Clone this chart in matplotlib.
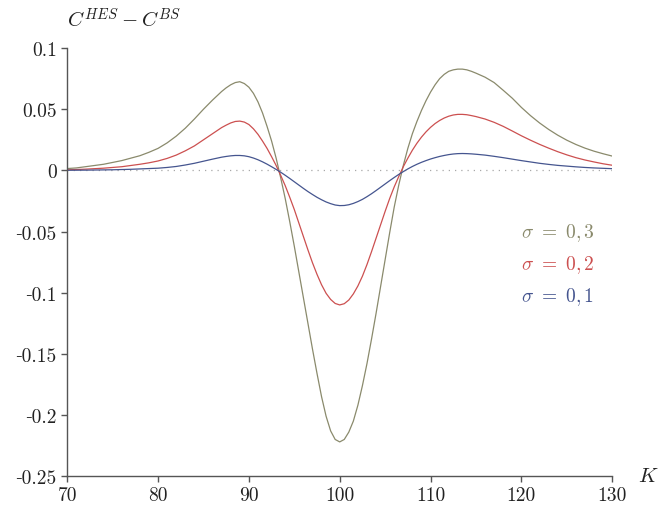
import matplotlib
matplotlib.use("Agg")
import matplotlib.pyplot as plt

plt.rcParams['font.family'] = ['cmr10', 'DejaVu Serif']
plt.rcParams['mathtext.fontset'] = 'cm'
plt.rcParams['axes.formatter.use_mathtext'] = True

# strike prices K (denser around the hump and the dip)
K = [70, 71, 72, 73, 74, 75, 76, 77, 78, 79, 80, 81, 82, 83, 84, 85, 86,
     86.5, 87, 87.5, 88, 88.5, 89, 89.5, 90, 90.5, 91, 91.5, 92, 92.5, 93, 93.5, 94,
     94.5, 95, 95.5, 96, 96.5, 97, 97.5, 98, 98.5, 99, 99.5, 100, 100.5, 101, 101.5, 102,
     102.5, 103, 103.5, 104, 104.5, 105, 105.5, 106, 106.5, 107, 107.5, 108, 108.5, 109,
     109.5, 110, 110.5, 111, 111.5, 112, 112.5, 113, 113.5, 114, 114.5, 115,
     116, 117, 118, 119, 120, 121, 122, 123, 124, 125, 126, 127, 128, 129, 130]

# C^HES - C^BS, one list per sigma
diff_s03 = [0.0015, 0.002, 0.003, 0.004, 0.005, 0.0065, 0.008, 0.010, 0.012, 0.0148,
            0.018, 0.0225, 0.028, 0.0345, 0.042, 0.050, 0.0575,
            0.061, 0.0645, 0.0675, 0.070, 0.0718, 0.0725, 0.071, 0.068, 0.063, 0.056,
            0.047, 0.036, 0.024, 0.010, -0.006, -0.023,
            -0.042, -0.062, -0.083, -0.104, -0.125, -0.146, -0.166, -0.185,
            -0.201, -0.213, -0.220, -0.222, -0.220, -0.214, -0.205, -0.192,
            -0.176, -0.158, -0.138, -0.117, -0.095, -0.073, -0.051, -0.030,
            -0.012, 0.004, 0.018, 0.030, 0.040, 0.049, 0.057, 0.064,
            0.070, 0.075, 0.0785, 0.081, 0.0822, 0.0828, 0.0828, 0.0822, 0.081, 0.0795,
            0.0762, 0.0718, 0.0655, 0.059, 0.0515, 0.0448, 0.0388, 0.0335, 0.0288, 0.0247,
            0.0212, 0.0182, 0.0157, 0.0136, 0.0117]
diff_s02 = [0.0005, 0.0007, 0.001, 0.0014, 0.0018, 0.0024, 0.003, 0.004, 0.005, 0.0062,
            0.0077, 0.0098, 0.0125, 0.016, 0.020, 0.025, 0.030,
            0.0325, 0.035, 0.037, 0.0388, 0.0400, 0.0403, 0.0395, 0.0375, 0.0340, 0.0295,
            0.0240, 0.0180, 0.0112, 0.0040, -0.0040, -0.0125,
            -0.0220, -0.0320, -0.0430, -0.0540, -0.0650, -0.0755, -0.0850, -0.0935,
            -0.1005, -0.1055, -0.1088, -0.1100, -0.1090, -0.1060, -0.1010, -0.0945,
            -0.0865, -0.0770, -0.0665, -0.0555, -0.0445, -0.0335, -0.0230, -0.0135,
            -0.0050, 0.0030, 0.0100, 0.0165, 0.0222, 0.0272, 0.0315, 0.0352,
            0.0383, 0.0408, 0.0428, 0.0443, 0.0453, 0.0458, 0.0458, 0.0455, 0.0448, 0.0440,
            0.0420, 0.0393, 0.0360, 0.0322, 0.0283, 0.0247, 0.0213, 0.0182, 0.0153, 0.0127,
            0.0104, 0.0085, 0.0069, 0.0054, 0.0042]
diff_s01 = [0.0001, 0.00015, 0.0002, 0.0003, 0.0004, 0.0005, 0.0007, 0.0009, 0.0012,
            0.0015, 0.0018, 0.0024, 0.0032, 0.0044, 0.0058, 0.0075, 0.0092,
            0.0100, 0.0108, 0.0114, 0.0119, 0.0122, 0.0122, 0.0119, 0.0112, 0.0101, 0.0087,
            0.0070, 0.0051, 0.0030, 0.0008, -0.0015, -0.0040,
            -0.0066, -0.0093, -0.0120, -0.0147, -0.0173, -0.0197, -0.0220, -0.0240,
            -0.0258, -0.0272, -0.0283, -0.0288, -0.0287, -0.0281, -0.0270, -0.0255,
            -0.0237, -0.0215, -0.0191, -0.0165, -0.0138, -0.0111, -0.0084, -0.0058,
            -0.0033, -0.0010, 0.0012, 0.0032, 0.0050, 0.0066, 0.0080, 0.0093,
            0.0104, 0.0114, 0.0122, 0.0129, 0.0134, 0.0137, 0.0138, 0.0137, 0.0135, 0.0132,
            0.0125, 0.0115, 0.0104, 0.0092, 0.0080, 0.0069, 0.0058, 0.0049, 0.0041, 0.0035,
            0.0029, 0.0024, 0.0020, 0.0017, 0.0014]

xticks = [70, 80, 90, 100, 110, 120, 130]
yticks = [0.1, 0.05, 0, -0.05, -0.1, -0.15, -0.2, -0.25]
ytick_labels = ['0.1', '0.05', '0', '\u20100.05', '\u20100.1', '\u20100.15',
                '\u20100.2', '\u20100.25']

c_olive = '#8a8a6c'
c_red = '#cc5050'
c_blue = '#45558f'

fig = plt.figure(figsize=(6.59, 5.06), dpi=100)
ax = fig.add_axes([0.102, 0.057, 0.827, 0.846])

ax.axhline(0, color='#a8a8a8', lw=0.9, ls=(0, (1, 4)))
ax.plot(K, diff_s03, color=c_olive, lw=0.9)
ax.plot(K, diff_s02, color=c_red, lw=0.9)
ax.plot(K, diff_s01, color=c_blue, lw=0.9)

ax.set_xlim(70, 130)
ax.set_ylim(-0.25, 0.1)
ax.set_xticks(xticks)
ax.set_xticklabels([str(t) for t in xticks])
ax.set_yticks(yticks)
ax.set_yticklabels(ytick_labels)

for s in ['top', 'right']:
    ax.spines[s].set_visible(False)
for s in ['left', 'bottom']:
    ax.spines[s].set_color('#555555')
    ax.spines[s].set_linewidth(1.0)
ax.tick_params(direction='out', length=4, width=1.0, color='#555555',
               labelsize=14, labelcolor='#222222')

ax.text(0.0, 1.068, r'$C^{HES} - C^{BS}$', transform=ax.transAxes,
        fontsize=15, ha='left', va='center', color='#222222')
ax.text(1.066, 0.0, r'$K$', transform=ax.transAxes,
        fontsize=15, ha='center', va='center', color='#222222')

ax.text(120.0, -0.0508, r'$\sigma\ =\ 0,3$', color=c_olive, fontsize=14, va='center')
ax.text(120.0, -0.0762, r'$\sigma\ =\ 0,2$', color=c_red, fontsize=14, va='center')
ax.text(120.0, -0.1025, r'$\sigma\ =\ 0,1$', color=c_blue, fontsize=14, va='center')

plt.savefig('out.png', dpi=100)
